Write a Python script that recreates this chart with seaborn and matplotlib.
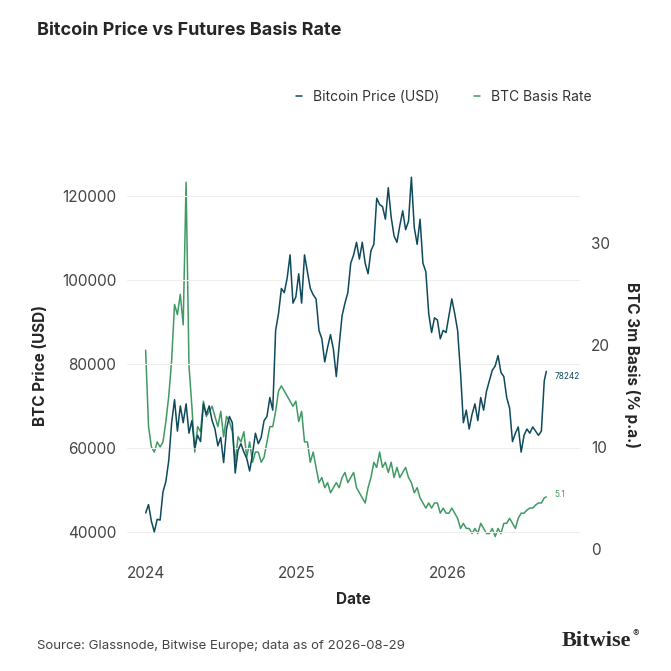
import matplotlib
matplotlib.use("Agg")
import matplotlib.pyplot as plt
import seaborn as sns
import pandas as pd
import numpy as np

price_k = [44.5,46.5,42.5,40,43, 42.8,49.5,52,57, 66,71.5,64,70, 66,70.5,63.5,66.5,60, 63,61.5,70.5,68,
           70,66.5,64.5,60.5, 62.5,56.5,64.5,67.5,66, 54,59.5,61,59, 57.5,54.5,58.5,63.5,61, 62.5,66.5,67.5,72,
           69,88,92,98, 97,100.5,106,94.5,96,
           101.5,94.5,106,102, 98,96.5,95.5,88, 86,80.5,84,87,83.5, 77,84.5,91.5,94.5, 97,104,106,109,
           105,109,104,101.5,107, 108.5,119.5,118,117.5, 114.5,122,115,110.5, 109,113,116.5,112,114,
           124.5,112.5,108.5,114.5, 104,102,92,87.5, 91,90.5,86,88,87.5,
           91.5,95.5,92,88, 78,66,69,64.5, 68,70.5,66.5,72,69, 73.5,76,78.5,79.5, 82,78,77,72,
           69.5,61.5,63.5,65,59, 63,64.5,63.5,65, 64,63,64,76, 78.242]
basis = [19.5,12,10,9.5,10.5, 10,10.5,12.5,15, 18.5,24,23,25, 22,36,18,14,9.5, 12,11.5,14.5,13,
         13.5,14,13,12, 13.5,11,13,12.5,11.5, 8.5,11,10.5,11.5, 9,10.5,8.5,9.5,9.5, 8.5,9,10.5,12,
         12,13.5,15.5,16, 15.5,15,14.5,14,14.5,
         12.5,13.5,10.5,10.5, 8.5,9.5,8,6.5, 7,6,6.5,5.5,6, 6.5,6,7,7.5, 6.5,7,7.5,6, 5.5,5,4.5,6,7,
         8.5,8,9.5,8, 8.5,7.5,8.5,7, 8,7,7.5,8,7, 6.5,5.5,6,5, 4.5,4,4.5,4, 4.5,4.5,3.5,4,3.5,
         3.5,4,3.5,3, 2,2.5,2,2, 1.5,2,1.5,2.5,2, 1.5,1.5,2,1.2, 2,1.5,2.5,2.5, 3,2.5,2,3,3.5,
         3.5,3.8,4,4, 4.3,4.5,4.5,5, 5.1]
dates = list(pd.date_range("2024-01-01", "2026-08-24", freq="W-MON")) + [pd.Timestamp("2026-08-29")]

df = pd.DataFrame({"date": dates, "price": np.array(price_k) * 1000, "basis": basis})

C_PRICE = "#0e4a5c"
C_BASIS = "#3f9a63"

sns.set_theme(style="white")
plt.rcParams["font.family"] = ["Inter", "DejaVu Sans"]

fig = plt.figure(figsize=(6.71, 6.71), dpi=100)
ax = fig.add_axes([0.19, 0.173, 0.674, 0.566])
ax2 = ax.twinx()

sns.lineplot(data=df, x="date", y="price", ax=ax, color=C_PRICE, lw=1.1, label="Bitcoin Price (USD)", legend=False)
sns.lineplot(data=df, x="date", y="basis", ax=ax2, color=C_BASIS, lw=1.1, label="BTC Basis Rate", legend=False)
ax.set_zorder(ax2.get_zorder() + 1)
ax.patch.set_visible(False)

ax.set_ylim(34500, 125000)
ax2.set_ylim(-0.6, 36.7)
ax.set_xlim(pd.Timestamp("2023-11-18"), pd.Timestamp("2026-11-18"))
ax.set_yticks([40000, 60000, 80000, 100000, 120000])
ax.set_yticklabels(["40000", "60000", "80000", "100000", "120000"])
ax2.set_yticks([0, 10, 20, 30])
ticks = [pd.Timestamp("2024-01-01"), pd.Timestamp("2025-01-01"), pd.Timestamp("2026-01-01")]
ax.set_xticks(ticks)
ax.set_xticklabels(["2024", "2025", "2026"])
ax.grid(axis="y", color="#eeeeee", lw=0.8)
ax2.grid(False)
for a in (ax, ax2):
    for s in a.spines.values():
        s.set_visible(False)
    a.tick_params(length=0, labelsize=11, colors="#444444", pad=8)

ax.set_xlabel("Date", fontsize=11, fontweight="bold", labelpad=8)
ax.set_ylabel("BTC Price (USD)", fontsize=11, fontweight="bold", labelpad=10)
ax2.set_ylabel("BTC 3m Basis (% p.a.)", fontsize=11, fontweight="bold", rotation=270, labelpad=22)

last = df.iloc[-1]
ax.annotate(f"{int(round(last['price']))}", (last["date"], last["price"]), xytext=(6, -4),
            textcoords="offset points", fontsize=6, color=C_PRICE, va="center")
ax2.annotate(f"{last['basis']:.1f}", (last["date"], last["basis"]), xytext=(6, 2),
             textcoords="offset points", fontsize=6, color=C_BASIS, va="center")

h1, l1 = ax.get_legend_handles_labels()
h2, l2 = ax2.get_legend_handles_labels()
fig.legend(h1 + h2, l1 + l2, loc="center right", bbox_to_anchor=(0.9, 0.855), ncol=2, frameon=False,
           fontsize=10, handlelength=0.4, columnspacing=2.5, labelcolor="#333333")

fig.text(0.055, 0.955, "Bitcoin Price vs Futures Basis Rate", fontsize=13, fontweight="bold", va="center")
fig.text(0.055, 0.037, "Source: Glassnode, Bitwise Europe; data as of 2026-08-29", fontsize=9.5, color="#444444", va="center")
fig.text(0.94, 0.045, "Bitwise", fontsize=16, fontweight="bold", family="Liberation Serif", ha="right", va="center")
fig.text(0.942, 0.055, "®", fontsize=7, ha="left", va="center")

fig.savefig("out.png", dpi=100, facecolor="white")
